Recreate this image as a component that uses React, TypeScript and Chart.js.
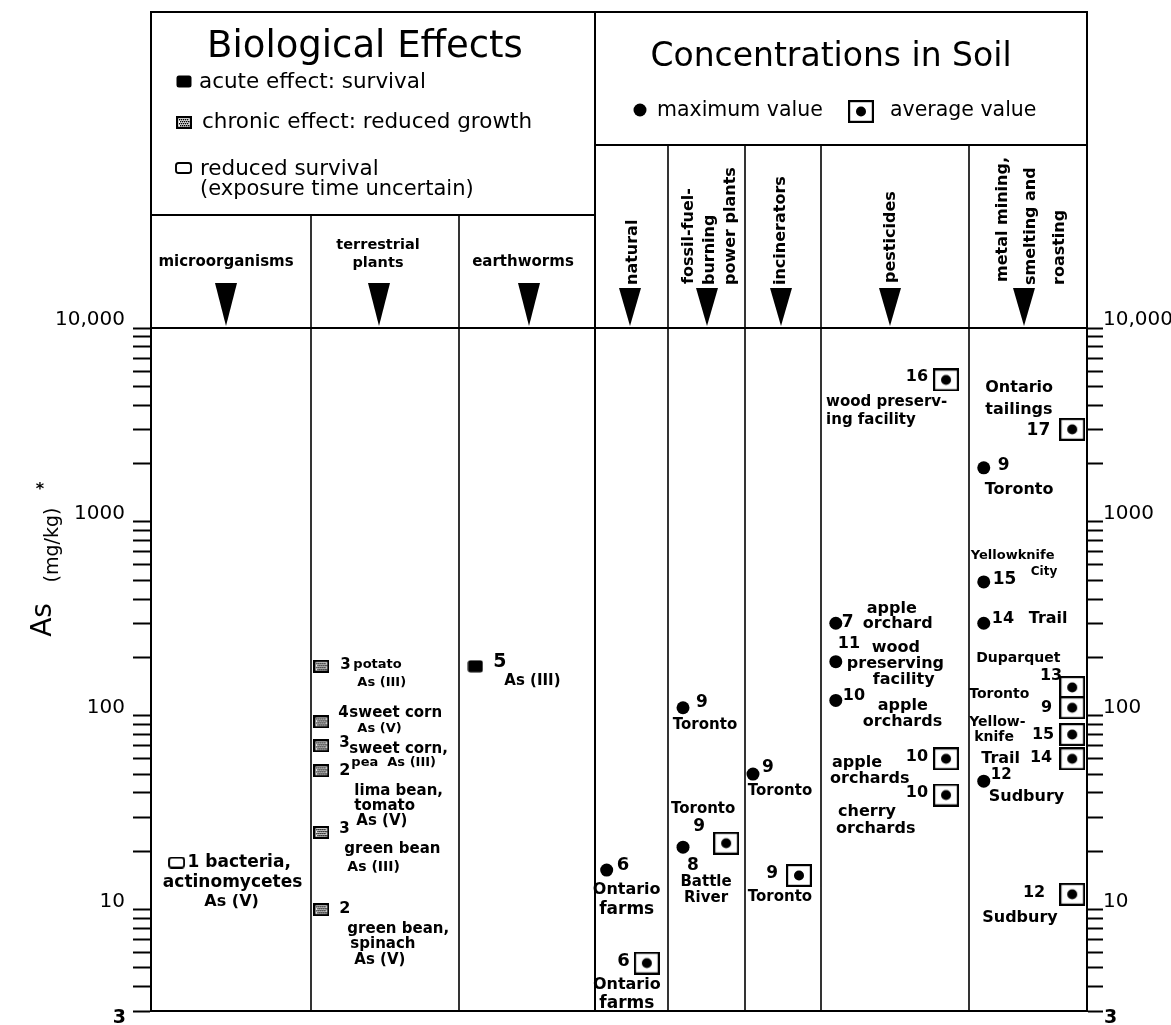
import React, { useEffect, useRef } from 'react';
import { Chart, registerables } from 'chart.js';

Chart.register(...registerables);

// ---------------- data ----------------
const bioCategories = ['microorganisms', 'terrestrial plants', 'earthworms'];
const soilCategories = ['natural', 'fossil-fuel-burning power plants', 'incinerators', 'pesticides', 'metal mining, smelting and roasting'];

const yMajorTicks = [3, 10, 100, 1000, 10000];
const yMajorLabels = ['3', '10', '100', '1000', '10,000'];
const yMinorTicks = [4, 5, 6, 7, 8, 9, 20, 30, 40, 50, 60, 70, 80, 90, 200, 300, 400, 500, 600, 700, 800, 900, 2000, 3000, 4000, 5000, 6000, 7000, 8000, 9000];

// biological effects (cat = column index)
const reducedSurvival = [{ cat: 0, value: 17.5, ref: '1' }];
const chronicEffect = [
  { cat: 1, value: 180, ref: '3' },
  { cat: 1, value: 93, ref: '4' },
  { cat: 1, value: 70, ref: '3' },
  { cat: 1, value: 52, ref: '2' },
  { cat: 1, value: 25, ref: '3' },
  { cat: 1, value: 10, ref: '2' },
];
const acuteEffect = [{ cat: 2, value: 180, ref: '5' }];

// concentrations in soil
const maxValues = [
  { cat: 3, value: 16, ref: '6' },
  { cat: 4, value: 110, ref: '9' },
  { cat: 4, value: 21, ref: '8' },
  { cat: 5, value: 50, ref: '9' },
  { cat: 6, value: 300, ref: '7' },
  { cat: 6, value: 190, ref: '11' },
  { cat: 6, value: 120, ref: '10' },
  { cat: 7, value: 1900, ref: '9' },
  { cat: 7, value: 490, ref: '15' },
  { cat: 7, value: 300, ref: '14' },
  { cat: 7, value: 46, ref: '12' },
];
const avgValues = [
  { cat: 3, value: 5.3, ref: '6' },
  { cat: 4, value: 22, ref: '9' },
  { cat: 5, value: 15, ref: '9' },
  { cat: 6, value: 5400, ref: '16' },
  { cat: 6, value: 60, ref: '10' },
  { cat: 6, value: 39, ref: '10' },
  { cat: 7, value: 3000, ref: '17' },
  { cat: 7, value: 140, ref: '13' },
  { cat: 7, value: 110, ref: '9' },
  { cat: 7, value: 80, ref: '15' },
  { cat: 7, value: 60, ref: '14' },
  { cat: 7, value: 12, ref: '12' },
];

// ---------------- layout ----------------
const columnWidths = [160, 148, 136, 73, 77, 76, 148, 118];
const columnEdges = columnWidths.reduce((a, w) => { a.push(a[a.length - 1] + w); return a; }, [0] as number[]);
const xFracBio = { reduced: 0.16, chronic: 0.07, acute: 0.12 };
const xFracMax: Record<number, number> = { 3: 0.16, 4: 0.195, 5: 0.105, 6: 0.1, 7: 0.125 };
const xFracAvg: Record<number, number> = { 3: 0.71, 4: 0.755, 5: 0.71, 6: 0.845, 7: 0.875 };
const xOf = (cat: number, frac: number) => columnEdges[cat] + frac * columnWidths[cat];

type Item = [string, number, number, 'left' | 'center' | 'right', number];
const annotations: { set: string; i: number; items: Item[] }[] = [
  { set: 'reduced', i: 0, items: [['1 bacteria,', 11, 0, 'left', 17], ['actinomycetes', 56, 20, 'center', 17], ['As (V)', 55, 39, 'center', 16]] },
  { set: 'chronic', i: 0, items: [['3', 19, -1, 'left', 15], ['potato', 32, -2, 'left', 13], ['As (III)', 36, 16, 'left', 13]] },
  { set: 'chronic', i: 1, items: [['4', 17, -9, 'left', 15], ['sweet corn', 28, -9, 'left', 15], ['As (V)', 36, 7, 'left', 13]] },
  { set: 'chronic', i: 2, items: [['3', 18, -3, 'left', 15], ['sweet corn,', 28, 3, 'left', 15], ['pea  As (III)', 30, 17, 'left', 13]] },
  { set: 'chronic', i: 3, items: [['2', 18, 0, 'left', 16], ['lima bean,', 33, 20, 'left', 15], ['tomato', 33, 35, 'left', 15], ['As (V)', 35, 50, 'left', 15]] },
  { set: 'chronic', i: 4, items: [['3', 18, -3, 'left', 15], ['green bean', 23, 17, 'left', 15], ['As (III)', 26, 35, 'left', 14]] },
  { set: 'chronic', i: 5, items: [['2', 18, -1, 'left', 16], ['green bean,', 26, 19, 'left', 15], ['spinach', 29, 34, 'left', 15], ['As (V)', 33, 50, 'left', 15]] },
  { set: 'acute', i: 0, items: [['5', 18, -4, 'left', 19], ['As (III)', 29, 15, 'left', 15]] },
  { set: 'max', i: 0, items: [['6', 10, -5, 'left', 18], ['Ontario', 20, 20, 'center', 16], ['farms', 20, 40, 'center', 17]] },
  { set: 'max', i: 1, items: [['9', 13, -5, 'left', 17], ['Toronto', 22, 17, 'center', 15]] },
  { set: 'max', i: 2, items: [['8', 10, 18, 'center', 17], ['Battle', 23, 35, 'center', 15], ['River', 23, 51, 'center', 15]] },
  { set: 'max', i: 3, items: [['9', 9, -7, 'left', 17], ['Toronto', 27, 17, 'center', 15]] },
  { set: 'max', i: 4, items: [['7', 6, -1, 'left', 17], ['apple', 31, -14, 'left', 16], ['orchard', 27, 1, 'left', 16]] },
  { set: 'max', i: 5, items: [['11', 2, -18, 'left', 16], ['wood', 36, -14, 'left', 16], ['preserving', 11, 2, 'left', 16], ['facility', 37, 18, 'left', 16]] },
  { set: 'max', i: 6, items: [['10', 7, -5, 'left', 16], ['apple', 42, 5, 'left', 16], ['orchards', 27, 21, 'left', 16]] },
  { set: 'max', i: 7, items: [['9', 14, -2, 'left', 17], ['Toronto', 1, 22, 'left', 16]] },
  { set: 'max', i: 8, items: [['Yellowknife', -13, -26, 'left', 13], ['15', 9, -2, 'left', 17], ['City', 47, -10, 'left', 12]] },
  { set: 'max', i: 9, items: [['14', 8, -4, 'left', 16], ['Trail', 45, -4, 'left', 16]] },
  { set: 'max', i: 10, items: [['12', 7, -6, 'left', 15], ['Sudbury', 5, 16, 'left', 16]] },
  { set: 'avg', i: 0, items: [['6', -17, -2, 'right', 18], ['Ontario', -20, 22, 'center', 16], ['farms', -20, 40, 'center', 17]] },
  { set: 'avg', i: 1, items: [['Toronto', -23, -34, 'center', 15], ['9', -27, -17, 'center', 17]] },
  { set: 'avg', i: 2, items: [['9', -21, -2, 'right', 17], ['Toronto', -19, 22, 'center', 15]] },
  { set: 'avg', i: 3, items: [['16', -18, -3, 'right', 16], ['wood preserv-', -120, 22, 'left', 15], ['ing facility', -120, 40, 'left', 15]] },
  { set: 'avg', i: 4, items: [['10', -18, -2, 'right', 16], ['apple', -114, 4, 'left', 16], ['orchards', -116, 20, 'left', 16]] },
  { set: 'avg', i: 5, items: [['10', -18, -2, 'right', 16], ['cherry', -108, 17, 'left', 16], ['orchards', -110, 34, 'left', 16]] },
  { set: 'avg', i: 6, items: [['Ontario', -87, -42, 'left', 16], ['tailings', -87, -20, 'left', 16], ['17', -22, 1, 'right', 17]] },
  { set: 'avg', i: 7, items: [['Duparquet', -96, -29, 'left', 14], ['13', -10, -12, 'right', 16]] },
  { set: 'avg', i: 8, items: [['Toronto', -103, -13, 'left', 14], ['9', -20, 0, 'right', 16]] },
  { set: 'avg', i: 9, items: [['Yellow-', -103, -12, 'left', 14], ['knife', -98, 3, 'left', 14], ['15', -18, 0, 'right', 16]] },
  { set: 'avg', i: 10, items: [['Trail', -91, 0, 'left', 16], ['14', -20, -1, 'right', 16]] },
  { set: 'avg', i: 11, items: [['12', -27, -1, 'right', 16], ['Sudbury', -90, 24, 'left', 16]] },
];

const FONT = '"DejaVu Sans", "Liberation Sans", sans-serif';

function makeIcon(w: number, h: number, draw: (c: CanvasRenderingContext2D) => void) {
  const c = document.createElement('canvas');
  c.width = w; c.height = h;
  const ctx = c.getContext('2d')!;
  draw(ctx);
  return c;
}

function roundRect(ctx: CanvasRenderingContext2D, x: number, y: number, w: number, h: number, r: number) {
  ctx.beginPath();
  ctx.moveTo(x + r, y);
  ctx.lineTo(x + w - r, y);
  ctx.quadraticCurveTo(x + w, y, x + w, y + r);
  ctx.lineTo(x + w, y + h - r);
  ctx.quadraticCurveTo(x + w, y + h, x + w - r, y + h);
  ctx.lineTo(x + r, y + h);
  ctx.quadraticCurveTo(x, y + h, x, y + h - r);
  ctx.lineTo(x, y + r);
  ctx.quadraticCurveTo(x, y, x + r, y);
  ctx.closePath();
}

export default function App() {
  const ref = useRef<HTMLCanvasElement>(null);

  useEffect(() => {
    document.body.style.margin = '0';
    const canvas = ref.current!;

    const acuteIcon = makeIcon(16, 13, (c) => { c.fillStyle = '#000'; roundRect(c, 0.5, 0.5, 15, 12, 2.5); c.fill(); });
    const chronicIcon = makeIcon(16, 13, (c) => {
      c.fillStyle = '#fff'; c.fillRect(0, 0, 16, 13);
      c.fillStyle = '#000';
      for (let y = 3; y < 11; y += 2) for (let x = 3 + ((y - 3) / 2) % 2; x < 13; x += 2) c.fillRect(x, y, 1.4, 1.4);
      c.strokeStyle = '#000'; c.lineWidth = 2.2; c.strokeRect(1.1, 1.1, 13.8, 10.8);
    });
    const reducedIcon = makeIcon(17, 12, (c) => { c.strokeStyle = '#000'; c.lineWidth = 1.9; roundRect(c, 1, 1, 15, 10, 2.5); c.stroke(); });
    const avgIcon = makeIcon(26, 23, (c) => {
      c.fillStyle = '#fff'; c.fillRect(0, 0, 26, 23);
      c.strokeStyle = '#000'; c.lineWidth = 2.2; c.strokeRect(1.1, 1.1, 23.8, 20.8);
      c.fillStyle = '#000'; c.beginPath(); c.arc(13, 11.5, 5, 0, Math.PI * 2); c.fill();
    });

    const sets: Record<string, { cat: number; value: number }[]> = {
      reduced: reducedSurvival, chronic: chronicEffect, acute: acuteEffect, max: maxValues, avg: avgValues,
    };
    const xFor = (set: string, d: { cat: number }) => {
      if (set === 'reduced') return xOf(d.cat, xFracBio.reduced);
      if (set === 'chronic') return xOf(d.cat, xFracBio.chronic);
      if (set === 'acute') return xOf(d.cat, xFracBio.acute);
      if (set === 'max') return xOf(d.cat, xFracMax[d.cat]);
      return xOf(d.cat, xFracAvg[d.cat]);
    };
    const pts = (set: string) => sets[set].map((d) => ({ x: xFor(set, d), y: d.value }));

    const allTicks = [...yMajorTicks, ...yMinorTicks].sort((a, b) => a - b);
    // the lowest label ("3") sits below its tick, so it is drawn by the overlay
    const tickLabel = (v: any) => {
      const i = yMajorTicks.indexOf(Number(v));
      return i > 0 ? yMajorLabels[i] : '';
    };

    const overlay = {
      id: 'overlay',
      afterDraw(chart: any) {
        const { ctx, chartArea: ca, scales } = chart;
        const xs = scales.x, ys = scales.y;
        const X = (u: number) => xs.getPixelForValue(u);
        const top = 12, bioDiv = 215, soilDiv = 145;
        const e = columnEdges.map(X);
        ctx.save();
        ctx.strokeStyle = '#000';
        ctx.lineWidth = 2;
        const line = (x1: number, y1: number, x2: number, y2: number) => { ctx.beginPath(); ctx.moveTo(x1, y1); ctx.lineTo(x2, y2); ctx.stroke(); };
        line(e[0] - 1, top, e[8] + 1, top);
        line(e[0], top, e[0], ca.top);
        line(e[8], top, e[8], ca.top);
        line(e[0], ca.top, e[8], ca.top);
        line(e[3], top, e[3], ca.bottom);
        line(e[0], bioDiv, e[3], bioDiv);
        line(e[3], soilDiv, e[8], soilDiv);
        ctx.lineWidth = 1.6;
        [1, 2].forEach((k) => line(e[k], bioDiv, e[k], ca.bottom));
        [4, 5, 6, 7].forEach((k) => line(e[k], soilDiv, e[k], ca.bottom));
        ctx.lineWidth = 2;
        line(e[0], ca.bottom, e[8], ca.bottom);

        // lowest tick label on both axes
        ctx.fillStyle = '#000';
        ctx.font = `bold 19px ${FONT}`;
        ctx.textBaseline = 'middle';
        const y3 = ys.getPixelForValue(yMajorTicks[0]);
        ctx.textAlign = 'right';
        ctx.fillText(yMajorLabels[0], ca.left - 25, y3 + 7);
        ctx.textAlign = 'left';
        ctx.fillText(yMajorLabels[0], ca.right + 17, y3 + 7);

        // titles
        ctx.textBaseline = 'alphabetic';
        ctx.textAlign = 'center';
        ctx.font = `37px ${FONT}`;
        ctx.fillText('Biological Effects', 365, 57);
        ctx.font = `33px ${FONT}`;
        ctx.fillText('Concentrations in Soil', 831, 66);

        // bio legend
        ctx.textAlign = 'left';
        ctx.font = `21.5px ${FONT}`;
        ctx.drawImage(acuteIcon, 176, 75);
        ctx.fillText('acute effect: survival', 199, 88);
        ctx.drawImage(chronicIcon, 176, 116);
        ctx.fillText('chronic effect: reduced growth', 202, 128);
        ctx.drawImage(reducedIcon, 175, 162);
        ctx.fillText('reduced survival', 200, 175);
        ctx.font = `21px ${FONT}`;
        ctx.fillText('(exposure time uncertain)', 200, 195);

        // soil legend
        ctx.font = `20.5px ${FONT}`;
        ctx.beginPath(); ctx.arc(640, 110, 6.5, 0, Math.PI * 2); ctx.fill();
        ctx.fillText('maximum value', 657, 116);
        ctx.drawImage(avgIcon, 848, 100);
        ctx.fillText('average value', 890, 116);

        // bio sub headers
        ctx.textAlign = 'center';
        ctx.textBaseline = 'middle';
        ctx.font = `bold 15px ${FONT}`;
        ctx.fillText(bioCategories[0], 226, 262);
        ctx.font = `bold 14.5px ${FONT}`;
        ctx.fillText('terrestrial', 378, 245);
        ctx.fillText('plants', 378, 263);
        ctx.font = `bold 15px ${FONT}`;
        ctx.fillText(bioCategories[2], 523, 262);

        // soil sub headers (rotated)
        const soilLines: [string, number, number][] = [
          [soilCategories[0], 633, 285],
          ['fossil-fuel-', 689, 284], ['burning', 710, 285], ['power plants', 731, 285],
          [soilCategories[2], 781, 285],
          [soilCategories[3], 891, 283],
          ['metal mining,', 1003, 282], ['smelting and', 1031, 285], ['roasting', 1060, 285],
        ];
        ctx.font = `bold 16px ${FONT}`;
        ctx.textAlign = 'left';
        soilLines.forEach(([t, x, y]) => {
          ctx.save(); ctx.translate(x, y); ctx.rotate(-Math.PI / 2); ctx.fillText(t, 0, 0); ctx.restore();
        });

        // arrows
        const arrows: [number, number][] = [[226, 283], [379, 283], [529, 283], [630, 288], [707, 288], [781, 288], [890, 288], [1024, 288]];
        arrows.forEach(([x, y]) => {
          ctx.beginPath(); ctx.moveTo(x - 11, y); ctx.lineTo(x + 11, y); ctx.lineTo(x, 326); ctx.closePath(); ctx.fill();
        });

        // y-axis title
        ctx.textAlign = 'center';
        ctx.save(); ctx.translate(44, 620); ctx.rotate(-Math.PI / 2); ctx.font = `28px ${FONT}`; ctx.fillText('As', 0, 0); ctx.restore();
        ctx.save(); ctx.translate(53, 545); ctx.rotate(-Math.PI / 2); ctx.font = `19px ${FONT}`; ctx.fillText('(mg/kg)', 0, 0); ctx.restore();
        ctx.font = `bold 16px ${FONT}`;
        ctx.fillText('*', 40, 490);

        // point annotations
        annotations.forEach((a) => {
          const d = sets[a.set][a.i];
          const px = X(xFor(a.set, d));
          const py = ys.getPixelForValue(d.value);
          a.items.forEach(([t, dx, dy, al, size]) => {
            ctx.font = `bold ${size}px ${FONT}`;
            ctx.textAlign = al;
            ctx.textBaseline = 'middle';
            ctx.fillText(t, px + dx, py + dy);
          });
        });
        ctx.restore();
      },
    };

    const yScale = (position: 'left' | 'right', width: number, tickLength: number, padding: number) => ({
      type: 'logarithmic' as const,
      position,
      min: 3,
      max: 10000,
      afterBuildTicks: (s: any) => { s.ticks = allTicks.map((v) => ({ value: v })); },
      afterFit: (s: any) => { s.width = width; s.paddingTop = 0; s.paddingBottom = 0; },
      ticks: {
        callback: tickLabel,
        autoSkip: false,
        maxRotation: 0,
        color: '#000',
        padding,
        labelOffset: -8,
        font: { family: 'DejaVu Sans', size: 20 },
      },
      grid: { drawOnChartArea: false, drawTicks: true, tickLength, tickColor: '#000', tickWidth: 2, color: '#000' },
      border: { display: true, color: '#000', width: 2 },
    });

    const chart = new Chart(canvas, {
      type: 'scatter',
      data: {
        datasets: [
          { label: 'reduced survival', data: pts('reduced'), pointStyle: reducedIcon as any, pointRadius: 8, clip: false as any },
          { label: 'chronic effect', data: pts('chronic'), pointStyle: chronicIcon as any, pointRadius: 8, clip: false as any },
          { label: 'acute effect', data: pts('acute'), pointStyle: acuteIcon as any, pointRadius: 8, clip: false as any },
          { label: 'average value', data: pts('avg'), pointStyle: avgIcon as any, pointRadius: 12, clip: false as any },
          { label: 'maximum value', data: pts('max'), pointStyle: 'circle', pointRadius: 6.5, backgroundColor: '#000', borderWidth: 0, clip: false as any },
        ],
      },
      options: {
        animation: false,
        responsive: false,
        maintainAspectRatio: false,
        devicePixelRatio: 1,
        layout: { padding: { top: 328, bottom: 14, left: 0, right: 0 } },
        plugins: { legend: { display: false }, tooltip: { enabled: false } },
        scales: {
          x: { type: 'linear', min: 0, max: columnEdges[columnEdges.length - 1], display: false },
          y: yScale('left', 151, 18, 8) as any,
          y2: yScale('right', 84, 16, 0) as any,
        },
      },
      plugins: [overlay],
    });
    return () => chart.destroy();
  }, []);

  return (
    <div style={{ width: 1171, height: 1025, background: '#fff' }}>
      <canvas ref={ref} width={1171} height={1025} style={{ display: 'block', width: 1171, height: 1025 }} />
    </div>
  );
}
